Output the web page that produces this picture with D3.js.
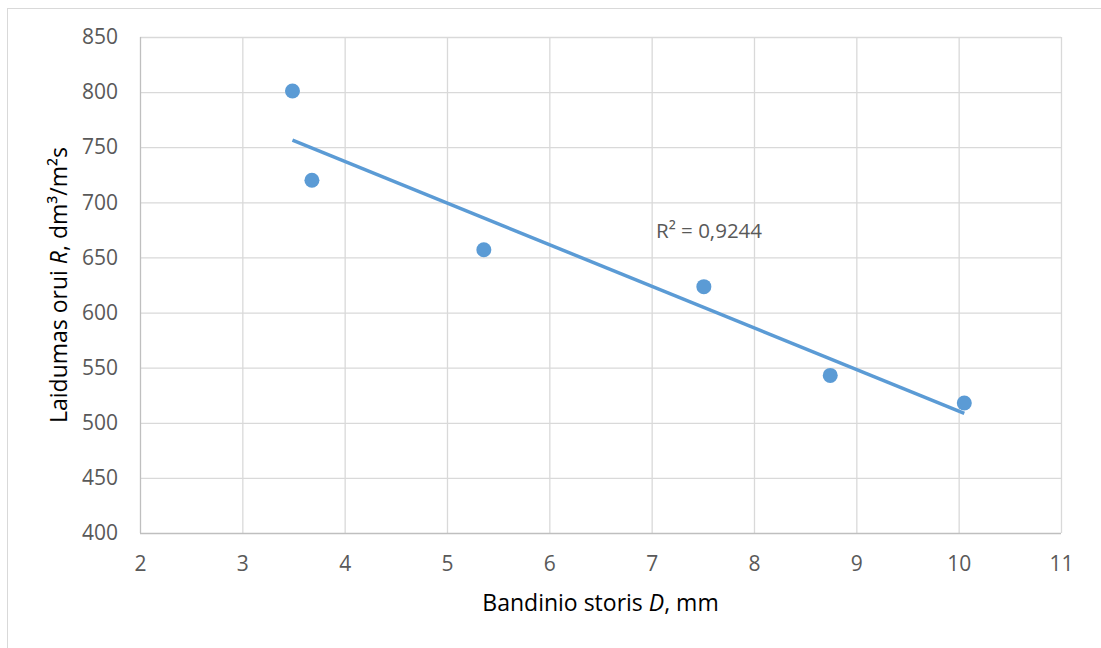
<!DOCTYPE html>
<html>
<head>
<meta charset="utf-8">
<script src="https://cdn.jsdelivr.net/npm/d3@7/dist/d3.min.js"></script>
<style>
    body { margin: 0; background: #fff; }
    svg { display: block; font-family: "Open Sans", sans-serif; }
</style>
</head>
<body>
<div id="chart"></div>
<script>
// Scatter chart: air permeability vs sample thickness

const thickness = [3.49, 3.68, 5.36, 7.51, 8.745, 10.055];      // D, mm
const permeability = [801, 720, 657, 623.5, 543, 518];          // R, dm3/m2s
const xTicks = [2, 3, 4, 5, 6, 7, 8, 9, 10, 11];
const yTicks = [400, 450, 500, 550, 600, 650, 700, 750, 800, 850];
const rSquaredLabel = 'R² = 0,9244';

const width = 1101;
const height = 648;
const margin = { top: 37, right: 40, bottom: 115, left: 140 };

// Least squares fit for the trend line
function linearFit(xs, ys) {
    const n = xs.length;
    const mx = d3.mean(xs);
    const my = d3.mean(ys);
    let sxy = 0, sxx = 0;
    for (let i = 0; i < n; i++) {
        sxy += (xs[i] - mx) * (ys[i] - my);
        sxx += (xs[i] - mx) * (xs[i] - mx);
    }
    const slope = sxy / sxx;
    return x => my + slope * (x - mx);
}

function drawChart() {
    const svg = d3.select('#chart')
        .append('svg')
        .attr('width', width)
        .attr('height', height);

    // Outer chart border (only left/top visible in the frame)
    svg.append('rect')
        .attr('x', 7.5)
        .attr('y', 8.5)
        .attr('width', width + 20)
        .attr('height', height + 20)
        .attr('fill', 'none')
        .attr('stroke', '#d9d9d9');

    const x = d3.scaleLinear()
        .domain([2, 11])
        .range([margin.left, 1061]);

    const y = d3.scaleLinear()
        .domain([400, 850])
        .range([533, margin.top]);

    // Gridlines
    svg.append('g')
        .selectAll('line.vgrid')
        .data(xTicks.slice(1))
        .enter()
        .append('line')
        .attr('x1', d => x(d) + 0.5)
        .attr('x2', d => x(d) + 0.5)
        .attr('y1', y(850))
        .attr('y2', y(400))
        .attr('stroke', '#d9d9d9')
        .attr('stroke-width', 1.3);

    svg.append('g')
        .selectAll('line.hgrid')
        .data(yTicks.slice(1))
        .enter()
        .append('line')
        .attr('x1', x(2))
        .attr('x2', x(11))
        .attr('y1', d => y(d) + 0.5)
        .attr('y2', d => y(d) + 0.5)
        .attr('stroke', '#d9d9d9')
        .attr('stroke-width', 1.3);

    // Axis lines
    svg.append('line')
        .attr('x1', x(2) + 0.5).attr('x2', x(2) + 0.5)
        .attr('y1', y(850)).attr('y2', y(400))
        .attr('stroke', '#bfbfbf').attr('stroke-width', 1.3);
    svg.append('line')
        .attr('x1', x(2)).attr('x2', x(11))
        .attr('y1', y(400) + 0.5).attr('y2', y(400) + 0.5)
        .attr('stroke', '#bfbfbf').attr('stroke-width', 1.3);

    // Tick labels
    const xAxis = d3.axisBottom(x).tickValues(xTicks).tickSize(0).tickPadding(23);
    svg.append('g')
        .attr('transform', `translate(0,${y(400)})`)
        .call(xAxis)
        .call(g => g.select('.domain').remove())
        .selectAll('text')
        .attr('fill', '#595959')
        .attr('font-size', '21px')
        .attr('font-family', '"Open Sans", sans-serif');

    const yAxis = d3.axisLeft(y).tickValues(yTicks).tickSize(0).tickPadding(22);
    svg.append('g')
        .attr('transform', `translate(${x(2)},0)`)
        .call(yAxis)
        .call(g => g.select('.domain').remove())
        .selectAll('text')
        .attr('fill', '#595959')
        .attr('font-size', '21px')
        .attr('font-family', '"Open Sans", sans-serif');

    // Trend line
    const fit = linearFit(thickness, permeability);
    const x0 = d3.min(thickness);
    const x1 = d3.max(thickness);
    svg.append('line')
        .attr('x1', x(x0)).attr('y1', y(fit(x0)))
        .attr('x2', x(x1)).attr('y2', y(fit(x1)))
        .attr('stroke', '#5b9bd5')
        .attr('stroke-width', 3.5);

    // Points
    svg.append('g')
        .selectAll('circle')
        .data(thickness.map((d, i) => [d, permeability[i]]))
        .enter()
        .append('circle')
        .attr('cx', d => x(d[0]))
        .attr('cy', d => y(d[1]))
        .attr('r', 7.5)
        .attr('fill', '#5b9bd5');

    // R squared label
    svg.append('text')
        .attr('x', 656)
        .attr('y', 238)
        .attr('fill', '#595959')
        .attr('font-size', '20.5px')
        .text(rSquaredLabel);

    // Axis titles
    const xTitle = svg.append('text')
        .attr('x', (x(2) + x(11)) / 2)
        .attr('y', 611)
        .attr('text-anchor', 'middle')
        .attr('fill', '#000')
        .attr('font-size', '23px');
    xTitle.append('tspan').text('Bandinio storis ');
    xTitle.append('tspan').attr('font-style', 'italic').text('D');
    xTitle.append('tspan').text(', mm');

    const yTitle = svg.append('text')
        .attr('transform', `translate(67,${(y(400) + y(850)) / 2}) rotate(-90)`)
        .attr('text-anchor', 'middle')
        .attr('fill', '#000')
        .attr('font-size', '23px');
    yTitle.append('tspan').text('Laidumas orui ');
    yTitle.append('tspan').attr('font-style', 'italic').text('R');
    yTitle.append('tspan').text(', dm³/m²s');
}

document.addEventListener('DOMContentLoaded', drawChart);
</script>
</body>
</html>
